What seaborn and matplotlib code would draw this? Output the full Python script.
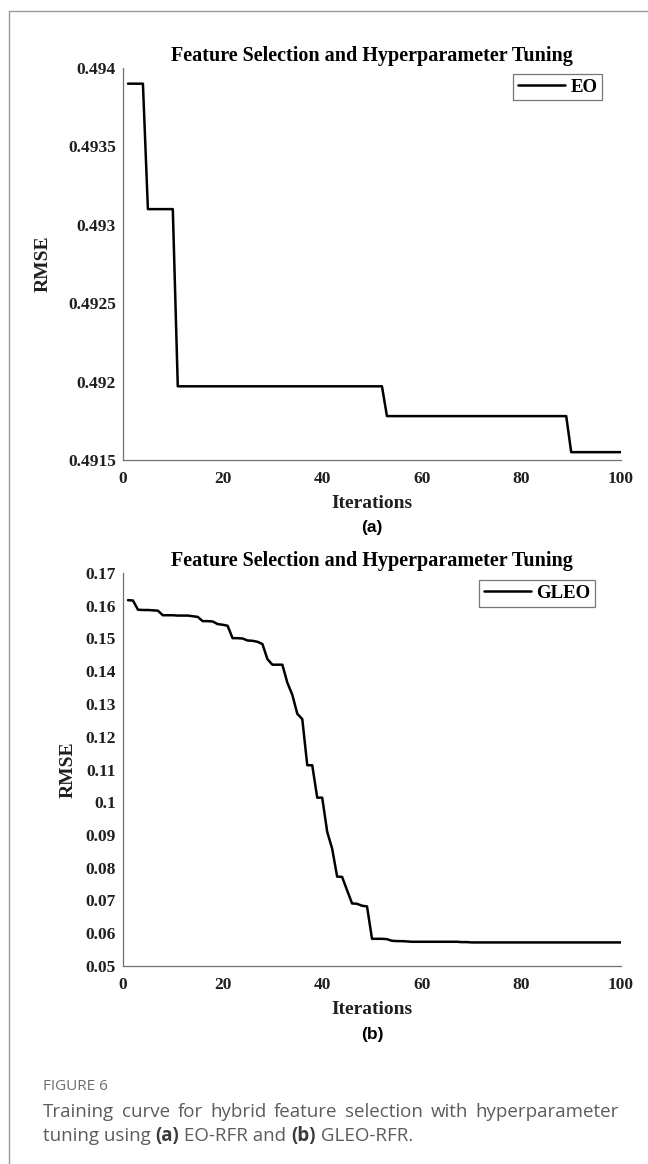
import numpy as np
import pandas as pd
import seaborn as sns
import matplotlib
matplotlib.use("Agg")
import matplotlib.pyplot as plt
from matplotlib.lines import Line2D

# ---------------------------------------------------------------- data
iterations = np.arange(1, 101)

eo_rmse = [
    0.49390, 0.49390, 0.49390, 0.49390,
    0.49310, 0.49310, 0.49310, 0.49310, 0.49310, 0.49310,
    0.49197, 0.49197, 0.49197, 0.49197, 0.49197, 0.49197, 0.49197, 0.49197, 0.49197, 0.49197,
    0.49197, 0.49197, 0.49197, 0.49197, 0.49197, 0.49197, 0.49197, 0.49197, 0.49197, 0.49197,
    0.49197, 0.49197, 0.49197, 0.49197, 0.49197, 0.49197, 0.49197, 0.49197, 0.49197, 0.49197,
    0.49197, 0.49197, 0.49197, 0.49197, 0.49197, 0.49197, 0.49197, 0.49197, 0.49197, 0.49197,
    0.49197, 0.49197,
    0.49178, 0.49178, 0.49178, 0.49178, 0.49178, 0.49178, 0.49178, 0.49178, 0.49178, 0.49178,
    0.49178, 0.49178, 0.49178, 0.49178, 0.49178, 0.49178, 0.49178, 0.49178, 0.49178, 0.49178,
    0.49178, 0.49178, 0.49178, 0.49178, 0.49178, 0.49178, 0.49178, 0.49178, 0.49178, 0.49178,
    0.49178, 0.49178, 0.49178, 0.49178, 0.49178, 0.49178, 0.49178,
    0.49155, 0.49155, 0.49155, 0.49155, 0.49155, 0.49155, 0.49155, 0.49155, 0.49155, 0.49155,
    0.49155,
]

gleo_rmse = [
    0.1617, 0.1616, 0.1588, 0.1587, 0.1587, 0.1586, 0.1585, 0.1571, 0.1571, 0.1571,
    0.1570, 0.1570, 0.1570, 0.1568, 0.1566, 0.1553, 0.1553, 0.1552, 0.1544, 0.1542,
    0.1539, 0.1501, 0.1501, 0.1500, 0.1494, 0.1493, 0.1490, 0.1483, 0.1437, 0.1420,
    0.1420, 0.1420, 0.1365, 0.1328, 0.1270, 0.1254, 0.1113, 0.1113, 0.1014, 0.1014,
    0.0910, 0.0858, 0.0773, 0.0772, 0.0731, 0.0691, 0.0690, 0.0684, 0.0682, 0.0583,
    0.0583, 0.0583, 0.0582, 0.0577, 0.0576, 0.0576, 0.0575, 0.0574, 0.0574, 0.0574,
    0.0574, 0.0574, 0.0574, 0.0574, 0.0574, 0.0574, 0.0574, 0.0573, 0.0573, 0.0572,
    0.0572, 0.0572, 0.0572, 0.0572, 0.0572, 0.0572, 0.0572, 0.0572, 0.0572, 0.0572,
    0.0572, 0.0572, 0.0572, 0.0572, 0.0572, 0.0572, 0.0572, 0.0572, 0.0572, 0.0572,
    0.0572, 0.0572, 0.0572, 0.0572, 0.0572, 0.0572, 0.0572, 0.0572, 0.0572, 0.0572,
]

x_ticks = [0, 20, 40, 60, 80, 100]
eo_ticks = [0.4915, 0.492, 0.4925, 0.493, 0.4935, 0.494]
eo_tick_labels = ["0.4915", "0.492", "0.4925", "0.493", "0.4935", "0.494"]
gleo_ticks = [0.05, 0.06, 0.07, 0.08, 0.09, 0.10, 0.11, 0.12, 0.13, 0.14, 0.15, 0.16, 0.17]
gleo_tick_labels = ["0.05", "0.06", "0.07", "0.08", "0.09", "0.1", "0.11",
                    "0.12", "0.13", "0.14", "0.15", "0.16", "0.17"]

title_text = "Feature Selection and Hyperparameter Tuning"
caption_head = "FIGURE 6"
caption_line1 = "Training curve for hybrid feature selection with hyperparameter"
caption_line2 = [("tuning using ", "normal"), ("(a)", "bold"), (" EO-RFR and ", "normal"),
                 ("(b)", "bold"), (" GLEO-RFR.", "normal")]

df_eo = pd.DataFrame({"Iterations": iterations, "RMSE": eo_rmse})
df_gleo = pd.DataFrame({"Iterations": iterations, "RMSE": gleo_rmse})

# ---------------------------------------------------------------- style
sns.set_theme(style="white")
plt.rcParams["font.family"] = ["Liberation Serif", "DejaVu Serif"]

W, H = 648, 1164
fig = plt.figure(figsize=(W / 100, H / 100), dpi=100)
fig.patch.set_facecolor("white")

SPINE = "#6f6f6f"
TEXT = "#1f1f1f"


def px_axes(left, top, right, bottom):
    return fig.add_axes([left / W, 1 - bottom / H, (right - left) / W, (bottom - top) / H])


def style_axes(ax, yticks, ylabels, ylim, ylabel_x, legend_anchor):
    ax.set_xlim(0, 100)
    ax.set_ylim(*ylim)
    ax.set_xticks(x_ticks)
    ax.set_xticklabels([str(t) for t in x_ticks])
    ax.set_yticks(yticks)
    ax.set_yticklabels(ylabels)
    for s in ["top", "right"]:
        ax.spines[s].set_visible(False)
    for s in ["left", "bottom"]:
        ax.spines[s].set_color(SPINE)
        ax.spines[s].set_linewidth(0.9)
    ax.tick_params(direction="in", length=4, width=0.8, color=SPINE,
                   labelsize=12.5, labelcolor=TEXT, pad=5)
    ax.tick_params(axis="x", pad=8)
    for lab in ax.get_xticklabels() + ax.get_yticklabels():
        lab.set_fontweight("bold")
    ax.set_title(title_text, fontsize=14.5, fontweight="bold", color="black", pad=5)
    ax.set_xlabel("Iterations", fontsize=14, fontweight="bold", color=TEXT)
    ax.xaxis.set_label_coords(0.5, -0.09)
    ax.set_ylabel("RMSE", fontsize=14, fontweight="bold", color=TEXT, va="center")
    ax.yaxis.set_label_coords(ylabel_x, 0.5)
    leg = ax.legend(loc="upper right", bbox_to_anchor=legend_anchor, frameon=True,
                    fancybox=False, borderpad=0.25, handlelength=2.5, handletextpad=0.3,
                    borderaxespad=0.0, prop={"family": "Liberation Serif",
                                             "weight": "bold", "size": 13.5})
    leg.get_frame().set_edgecolor("#555555")
    leg.get_frame().set_linewidth(0.9)
    for t in leg.get_texts():
        t.set_color("black")


# (a) EO-RFR
ax1 = px_axes(123, 68, 621, 460)
sns.lineplot(data=df_eo, x="Iterations", y="RMSE", ax=ax1, color="black",
             linewidth=1.8, label="EO")
style_axes(ax1, eo_ticks, eo_tick_labels, (0.4915, 0.494), -0.161, (0.962, 0.985))

# (b) GLEO-RFR
ax2 = px_axes(123, 573, 621, 966)
sns.lineplot(data=df_gleo, x="Iterations", y="RMSE", ax=ax2, color="black",
             linewidth=1.8, label="GLEO")
style_axes(ax2, gleo_ticks, gleo_tick_labels, (0.05, 0.17), -0.110, (0.948, 0.982))

# panel tags
sans = ["Liberation Sans", "DejaVu Sans"]
fig.text(372 / W, 1 - 528 / H, "(a)", ha="center", va="center",
         family=sans, fontweight="bold", fontsize=12.5, color="black")
fig.text(372 / W, 1 - 1035 / H, "(b)", ha="center", va="center",
         family=sans, fontweight="bold", fontsize=12.5, color="black")

# page frame (top and left rules)
frame_col = "#9a9a9a"
fig.add_artist(Line2D([9 / W, 1.0], [1 - 10.5 / H, 1 - 10.5 / H],
                      transform=fig.transFigure, color=frame_col, lw=1.0))
fig.add_artist(Line2D([9 / W, 9 / W], [1 - 10.5 / H, 0.0],
                      transform=fig.transFigure, color=frame_col, lw=1.0))

# caption
cap_font = ["Open Sans", "DejaVu Sans"]
cap_col = "#5c5c5c"
fig.text(43 / W, 1 - 1087 / H, caption_head, ha="left", va="center",
         family=cap_font, fontsize=11, color="#6e6e6e")

renderer = fig.canvas.get_renderer()
left_px, right_px = 43, 619

# first line: fully justified
words = caption_line1.split()
arts = [fig.text(0, 0, w, family=cap_font, fontsize=13.5, color=cap_col,
                 ha="left", va="center") for w in words]
widths = [a.get_window_extent(renderer).width for a in arts]
gap = (right_px - left_px - sum(widths)) / (len(words) - 1)
x = left_px
for a, w in zip(arts, widths):
    a.set_position((x / W, 1 - 1112 / H))
    x += w + gap

# second line: ragged, mixed weights
x = left_px
for txt, wt in caption_line2:
    t = fig.text(x / W, 1 - 1136 / H, txt, family=cap_font, fontsize=13.5,
                 fontweight=wt, color=cap_col if wt == "normal" else "#3a3a3a",
                 ha="left", va="center")
    x += t.get_window_extent(renderer).width

fig.savefig("out.png", dpi=100, facecolor="white")
